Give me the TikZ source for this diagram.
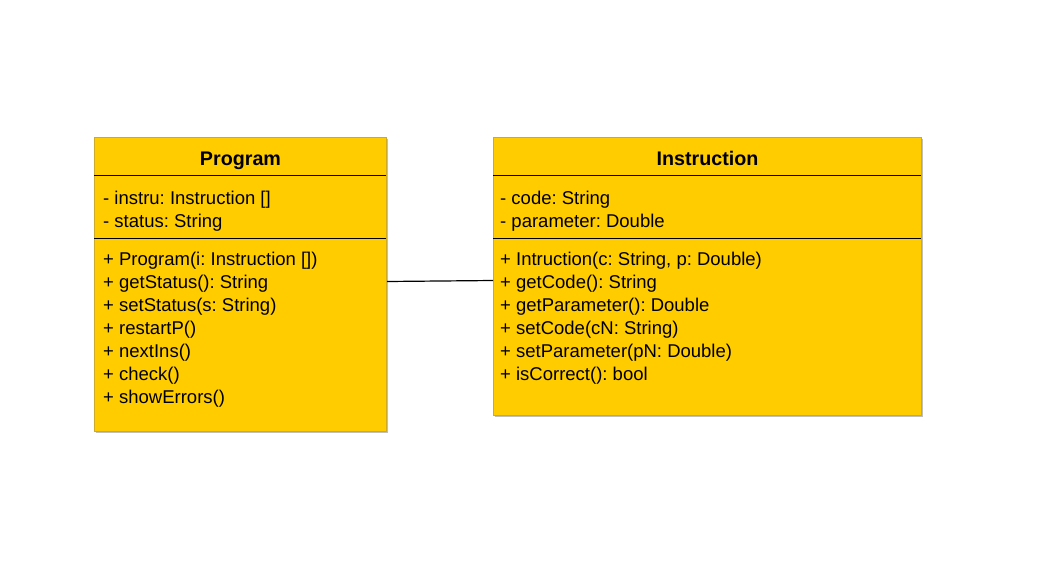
\documentclass[tikz,border=0pt]{standalone}
\usepackage{fontspec}
\setmainfont{Liberation Sans}
\frenchspacing
\usetikzlibrary{shadows}
\definecolor{boxfill}{RGB}{255,204,0}
\definecolor{boxline}{RGB}{205,170,40}
\tikzset{
  classbox/.style={draw=boxline, fill=boxfill, line width=1pt, anchor=north west, inner sep=0pt,
    drop shadow={shadow xshift=1.5pt, shadow yshift=-1.5pt, fill=black, opacity=0.25}},
  divider/.style={draw=black, line width=1.2pt},
  title/.style={font=\fontsize{19.7}{23}\selectfont\bfseries\frenchspacing, anchor=base, inner sep=0pt},
  member/.style={font=\fontsize{18.5}{23}\selectfont\frenchspacing, anchor=base west, inner sep=0pt},
  assoc/.style={draw=black, line width=1.2pt}
}
\begin{document}
\begin{tikzpicture}[x=1pt,y=-1pt]
\useasboundingbox (0,0) rectangle (1048,562);
% boxes
\node[classbox, minimum width=292pt, minimum height=294pt] (prog) at (94,137) {};
\node[classbox, minimum width=428pt, minimum height=278pt] (instr) at (493,137) {};
% dividers
\draw[divider] (94,175.5) -- (386,175.5);
\draw[divider] (94,238.5) -- (386,238.5);
\draw[divider] (493,175.5) -- (921,175.5);
\draw[divider] (493,238.5) -- (921,238.5);
% titles
\node[title] (progT) at (240.5,165) {Program};
\node[title] (instrT) at (707.5,165) {Instruction};
% Program attributes
\node[member] (pa1) at (103,204) {- instru: Instruction []};
\node[member] (pa2) at (103,227) {- status: String};
% Program methods
\node[member] (pm1) at (103,265) {+ Program(i: Instruction [])};
\node[member] (pm2) at (103,288) {+ getStatus(): String};
\node[member] (pm3) at (103,311) {+ setStatus(s: String)};
\node[member] (pm4) at (103,334) {+ restartP()};
\node[member] (pm5) at (103,357) {+ nextIns()};
\node[member] (pm6) at (103,380) {+ check()};
\node[member] (pm7) at (103,403) {+ showErrors()};
% Instruction attributes
\node[member] (ia1) at (500,204) {- code: String};
\node[member] (ia2) at (500,227) {- parameter: Double};
% Instruction methods
\node[member] (im1) at (500,265) {+ Intruction(c: String, p: Double)};
\node[member] (im2) at (500,288) {+ getCode(): String};
\node[member] (im3) at (500,311) {+ getParameter(): Double};
\node[member] (im4) at (500,334) {+ setCode(cN: String)};
\node[member] (im5) at (500,357) {+ setParameter(pN: Double)};
\node[member] (im6) at (500,380) {+ isCorrect(): bool};
% association
\path (prog.north east) ++(0,144.5) coordinate (ca);
\path (instr.north west) ++(0,143.5) coordinate (cb);
\draw[assoc] (ca) -- (cb);
\end{tikzpicture}
\end{document}
